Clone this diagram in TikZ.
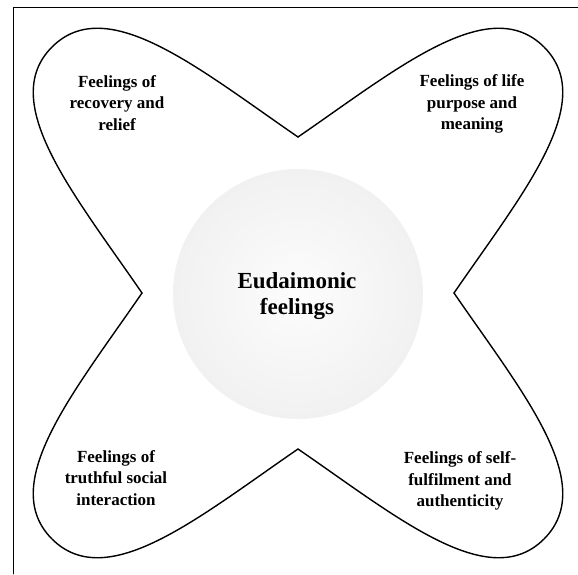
\documentclass[tikz,border=0pt]{standalone}
\usepackage{fontspec}
\setmainfont{Liberation Serif}
\tikzset{
  petaltext/.style={font=\bfseries\fontsize{17}{21.5}\selectfont, align=center},
  centretext/.style={font=\bfseries\fontsize{23}{26}\selectfont, align=center},
  petal/.style={line width=1.4pt}
}
\begin{document}
\begin{tikzpicture}[x=1pt, y=1pt, line join = round, line cap = round]

  \useasboundingbox (-298,-281) rectangle (280,293);
  % frame
  \draw[line width=0.9pt] (-285,-281) -- (-285,286) -- (280,286);
  % centre circle
  \shade[inner color=gray!2, outer color=gray!11] (0,-1) circle [radius=125];
  % petals
  \foreach \a in {0,90,180,270}
    \draw[petal, rotate=\a] (-156,0) .. controls (-224,99) and (-301,191) .. (-246,246)
      .. controls (-191,301) and (-99,224) .. (0,156);

  % texts
  \node[centretext] (eudaimonic) at (-1,-3) {Eudaimonic\\feelings};
  \node[petaltext] (recovery) at (-181,190) {Feelings of\\recovery and\\relief};
  \node[petaltext] (purpose) at (174,189) {Feelings of life\\purpose and\\meaning};
  \node[petaltext] (truthful) at (-182,-185) {Feelings of\\truthful social\\interaction};
  \node[petaltext] (fulfilment) at (162,-188) {Feelings of self-\\fulfilment and\\authenticity};

\end{tikzpicture}
\end{document}
